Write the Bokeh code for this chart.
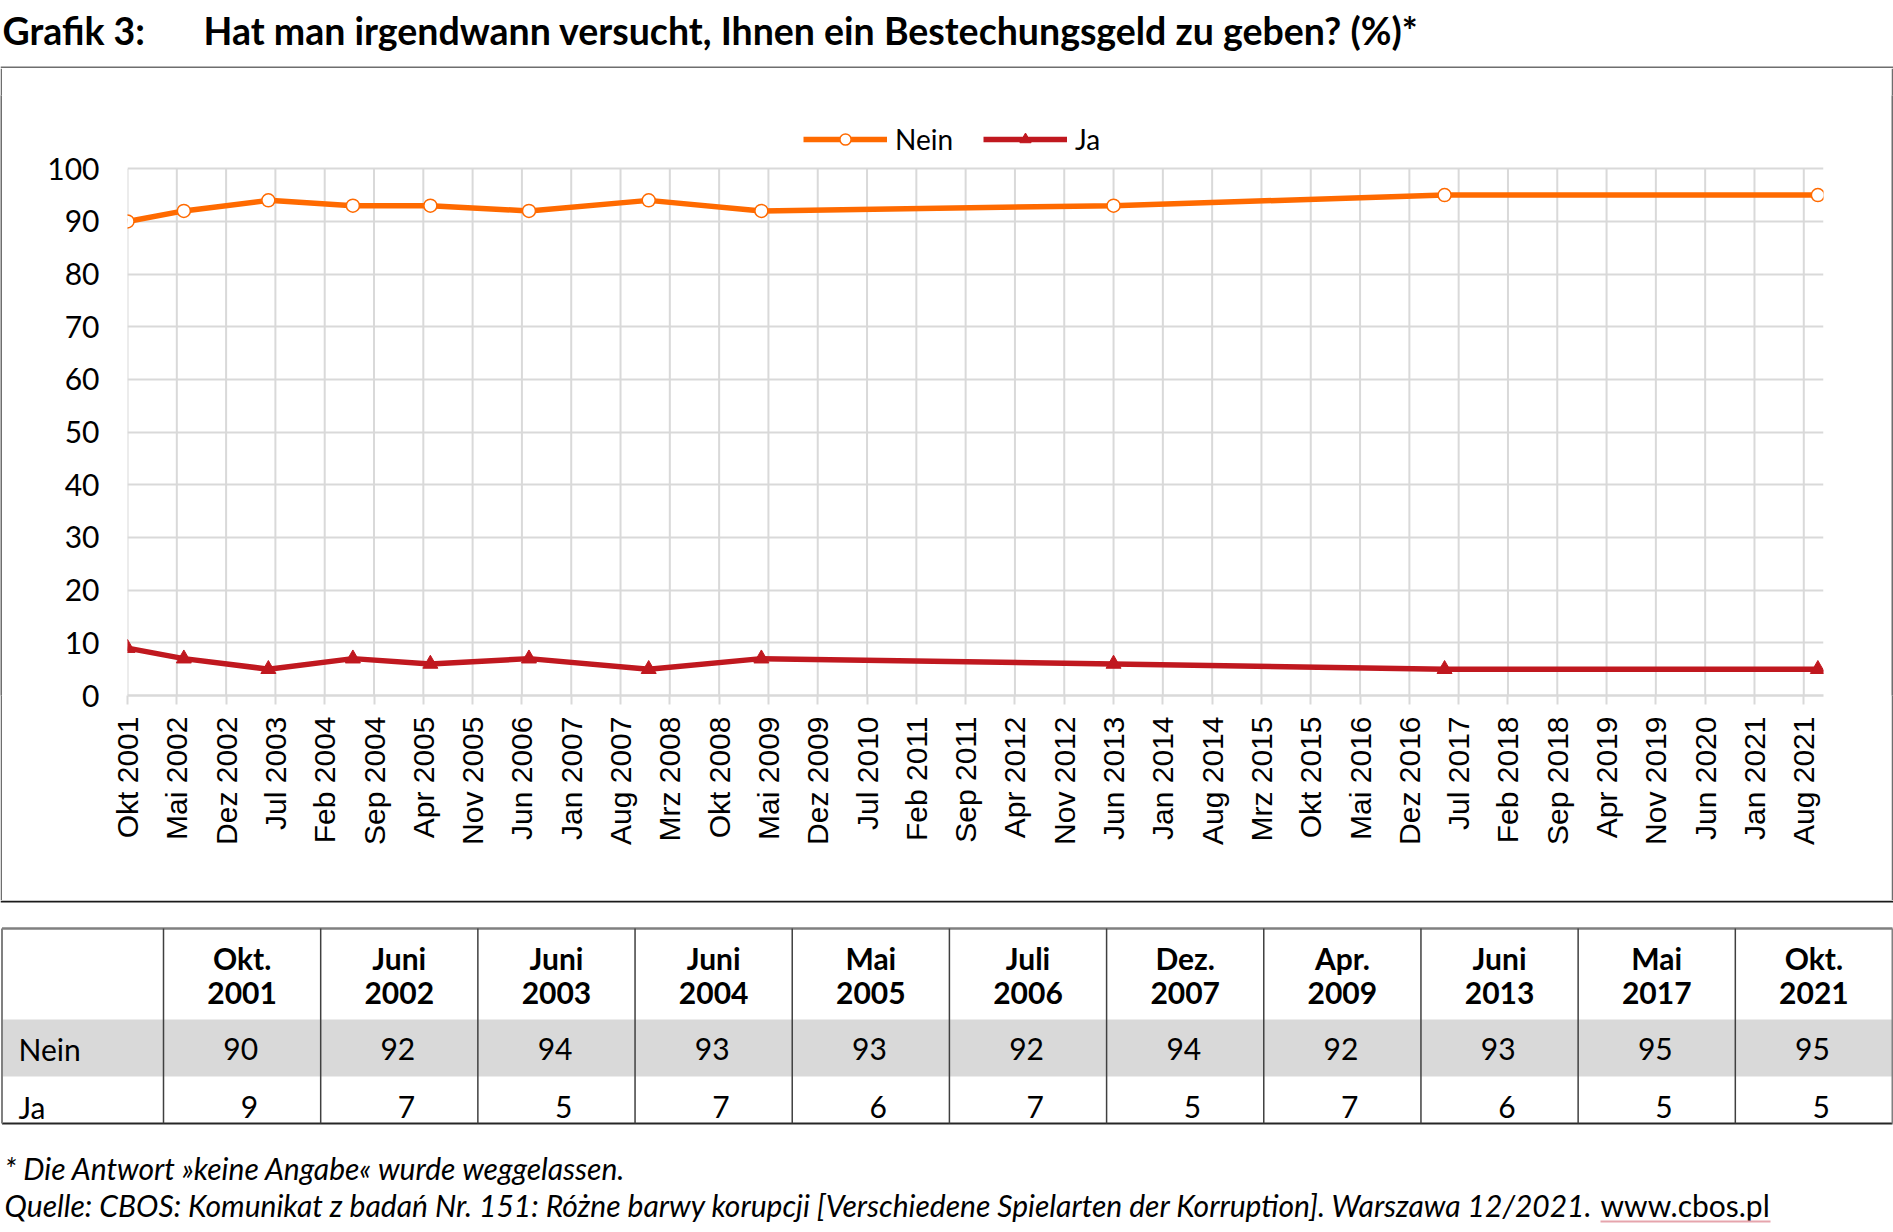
import math
from bokeh.plotting import figure
from bokeh.models import Range1d, FixedTicker, Legend, LegendItem, ColumnDataSource
from bokeh.layouts import column, row
from bokeh.embed import file_html
from bokeh.resources import INLINE
from bokeh.core.properties import value

# ---------------- data ----------------
title_label = "Grafik 3:"
title_text = "Hat man irgendwann versucht, Ihnen ein Bestechungsgeld zu geben? (%)*"
series_names = ["Nein", "Ja"]
survey_dates = ["2001-10", "2002-06", "2003-06", "2004-06", "2005-05", "2006-07",
                "2007-12", "2009-04", "2013-06", "2017-05", "2021-10"]
nein_values = [90, 92, 94, 93, 93, 92, 94, 92, 93, 95, 95]
ja_values = [9, 7, 5, 7, 6, 7, 5, 7, 6, 5, 5]
table_months = ["Okt.", "Juni", "Juni", "Juni", "Mai", "Juli", "Dez.", "Apr.", "Juni", "Mai", "Okt."]
table_years = ["2001", "2002", "2003", "2004", "2005", "2006", "2007", "2009", "2013", "2017", "2021"]
x_tick_labels = ["Okt 2001", "Mai 2002", "Dez 2002", "Jul 2003", "Feb 2004", "Sep 2004", "Apr 2005",
                 "Nov 2005", "Jun 2006", "Jan 2007", "Aug 2007", "Mrz 2008", "Okt 2008", "Mai 2009",
                 "Dez 2009", "Jul 2010", "Feb 2011", "Sep 2011", "Apr 2012", "Nov 2012", "Jun 2013",
                 "Jan 2014", "Aug 2014", "Mrz 2015", "Okt 2015", "Mai 2016", "Dez 2016", "Jul 2017",
                 "Feb 2018", "Sep 2018", "Apr 2019", "Nov 2019", "Jun 2020", "Jan 2021", "Aug 2021"]
y_ticks = [0, 10, 20, 30, 40, 50, 60, 70, 80, 90, 100]
footnote_text = "* Die Antwort »keine Angabe« wurde weggelassen."
source_text = "Quelle: CBOS: Komunikat z badań Nr. 151: Różne barwy korupcji [Verschiedene Spielarten der Korruption]. Warszawa 12/2021."
source_link = "www.cbos.pl"

MONTHS = {"Jan": 1, "Feb": 2, "Mrz": 3, "Apr": 4, "Mai": 5, "Jun": 6, "Jul": 7,
          "Aug": 8, "Sep": 9, "Okt": 10, "Nov": 11, "Dez": 12}


def month_index(year, month):
    return (year - 2001) * 12 + month - 10


def parse_date(s):
    y, m = s.split("-")
    return month_index(int(y), int(m))


def parse_tick(lbl):
    name, y = lbl.split()
    return month_index(int(y), MONTHS[name])


x_vals = [parse_date(d) for d in survey_dates]
tick_pos = [parse_tick(t) for t in x_tick_labels]

# ---------------- styles ----------------
ORANGE = "#FF6A00"
RED = "#C0181F"
GRID = "#D9D9D9"
FRAME = "#6E6E6E"
TXT = "#000000"
LATO = value("Lato")
W = 1893


def canvas(width, height, x0, x1, y_bottom, y_top):
    f = figure(width=width, height=height, x_range=Range1d(x0, x1), y_range=Range1d(y_bottom, y_top),
               x_axis_type=None, y_axis_type=None, toolbar_location=None, output_backend="svg",
               min_border=0)
    f.outline_line_color = None
    f.grid.visible = False
    f.background_fill_color = "white"
    f.border_fill_color = "white"
    return f


# ---------------- title (page y 0..68) ----------------
pt = canvas(W, 68, 0, W, 68, 0)
pt.text(x=[2], y=[30], text=[title_label], text_font=LATO, text_font_style="bold",
        text_font_size="37.5px", text_baseline="middle", text_align="left", text_color=TXT)
pt.text(x=[203], y=[30], text=[title_text], text_font=LATO, text_font_style="bold",
        text_font_size="37.5px", text_baseline="middle", text_align="left", text_color=TXT)
pt.segment(x0=[0], y0=[67], x1=[W], y1=[67], line_color=FRAME, line_width=2)

# ---------------- chart (page y 68..900) ----------------
FRAME_TOP, Y100, Y0 = 95.0, 168.3, 695.3
Y_TOP = 100 * (Y0 - FRAME_TOP) / (Y0 - Y100)
p = figure(width=1889, height=832, x_range=Range1d(0, 240.8), y_range=Range1d(0, Y_TOP),
           toolbar_location=None, output_backend="svg",
           min_border_left=125, min_border_right=68, min_border_top=int(FRAME_TOP - 68),
           min_border_bottom=205)
p.outline_line_color = None
p.background_fill_color = "white"
p.border_fill_color = "white"

# vertical grid lines only between 0 and 100
p.segment(x0=tick_pos, y0=[y_ticks[0]] * len(tick_pos), x1=tick_pos, y1=[y_ticks[-1]] * len(tick_pos),
          line_color=GRID, line_width=2)

src = ColumnDataSource(dict(x=x_vals, nein=nein_values, ja=ja_values))
l1 = p.line("x", "nein", source=src, line_color=ORANGE, line_width=5.5)
s1 = p.scatter("x", "nein", source=src, marker="circle", size=13, fill_color="white",
               line_color=ORANGE, line_width=1.5)
l2 = p.line("x", "ja", source=src, line_color=RED, line_width=5.5)
s2 = p.scatter("x", "ja", source=src, marker="triangle", size=15, fill_color=RED, line_color=RED)

p.xaxis.ticker = FixedTicker(ticks=tick_pos)
p.xaxis.major_label_overrides = {t: lbl for t, lbl in zip(tick_pos, x_tick_labels)}
p.xaxis.major_label_orientation = math.pi / 2
p.xaxis.major_label_text_font = "Liberation Sans"
p.xaxis.major_label_text_font_size = "30px"
p.xaxis.major_label_text_color = TXT
p.xaxis.axis_line_color = GRID
p.xaxis.axis_line_width = 2.5
p.xaxis.major_tick_line_color = GRID
p.xaxis.major_tick_line_width = 2
p.xaxis.major_tick_out = 9
p.xaxis.major_tick_in = 0
p.xaxis.minor_tick_line_color = None
p.xaxis.minor_tick_out = 0
p.xaxis.major_label_standoff = 12

p.yaxis.ticker = FixedTicker(ticks=y_ticks)
p.yaxis.axis_line_color = None
p.yaxis.major_tick_line_color = None
p.yaxis.minor_tick_line_color = None
p.yaxis.major_tick_out = 0
p.yaxis.major_tick_in = 0
p.yaxis.minor_tick_out = 0
p.yaxis.major_label_text_font = "Lato"
p.yaxis.major_label_text_font_size = "30px"
p.yaxis.major_label_text_color = TXT
p.yaxis.major_label_standoff = 28

p.xgrid.visible = False
p.ygrid.ticker = FixedTicker(ticks=y_ticks)
p.ygrid.grid_line_color = GRID
p.ygrid.grid_line_width = 2

legend = Legend(items=[LegendItem(label=series_names[0], renderers=[l1, s1]),
                       LegendItem(label=series_names[1], renderers=[l2, s2])],
                orientation="horizontal", location=(676, 539), glyph_width=84, glyph_height=28,
                label_standoff=8, spacing=30, padding=0, margin=0, border_line_color=None,
                background_fill_alpha=0, label_text_font="Lato", label_text_font_size="28px",
                label_text_color=TXT)
p.add_layout(legend, "center")


def strip():
    s = figure(width=2, height=832, toolbar_location=None, output_backend="svg",
               x_axis_type=None, y_axis_type=None, min_border=0)
    s.outline_line_color = None
    s.grid.visible = False
    s.background_fill_color = FRAME
    s.border_fill_color = FRAME
    return s


chart_row = row(strip(), p, strip(), spacing=0)

# ---------------- table + notes (page y 900..1232) ----------------
pb = canvas(W, 332, 0, W, 1232, 900)
pb.segment(x0=[0], y0=[901], x1=[W], y1=[901], line_color="#1A1A1A", line_width=2)

T_LEFT, T_RIGHT = 1.5, 1892
T_TOP, T_HEAD, T_ROW1, T_BOTTOM = 928, 1019, 1076, 1123
FIRST_COL = 163
ncols = len(table_years)
cw = (T_RIGHT - FIRST_COL) / ncols
centers = [FIRST_COL + (k + 0.5) * cw for k in range(ncols)]

pb.quad(left=[T_LEFT], right=[T_RIGHT], top=[T_HEAD], bottom=[T_ROW1], fill_color="#D9D9D9",
        line_color=None)
pb.segment(x0=[T_LEFT], y0=[T_TOP], x1=[T_RIGHT], y1=[T_TOP], line_color="#808080", line_width=2.5)
pb.segment(x0=[T_LEFT], y0=[T_BOTTOM], x1=[T_RIGHT], y1=[T_BOTTOM], line_color="#262626", line_width=2)
pb.segment(x0=[T_LEFT, T_RIGHT], y0=[T_TOP, T_TOP], x1=[T_LEFT, T_RIGHT], y1=[T_BOTTOM, T_BOTTOM],
           line_color="#808080", line_width=2)
div_x = [FIRST_COL + k * cw for k in range(ncols)]
pb.segment(x0=div_x, y0=[T_TOP] * ncols, x1=div_x, y1=[T_BOTTOM] * ncols,
           line_color="#404040", line_width=1.5)

pb.text(x=centers, y=[957] * ncols, text=table_months, text_font=LATO, text_font_style="bold",
        text_font_size="30px", text_align="center", text_baseline="middle", text_color=TXT)
pb.text(x=centers, y=[992] * ncols, text=table_years, text_font=LATO, text_font_style="bold",
        text_font_size="30px", text_align="center", text_baseline="middle", text_color=TXT)
pb.text(x=[c + 16 for c in centers], y=[1048] * ncols, text=[str(v) for v in nein_values],
        text_font=LATO, text_font_size="30px", text_align="right", text_baseline="middle", text_color=TXT)
pb.text(x=[c + 16 for c in centers], y=[1106] * ncols, text=[str(v) for v in ja_values],
        text_font=LATO, text_font_size="30px", text_align="right", text_baseline="middle", text_color=TXT)
pb.text(x=[18, 18], y=[1048, 1106], text=series_names, text_font=LATO, text_font_size="30px",
        text_align="left", text_baseline="middle", text_color=TXT)

pb.text(x=[4], y=[1167], text=[footnote_text], text_font=LATO, text_font_style="italic",
        text_font_size="30px", text_align="left", text_baseline="middle", text_color=TXT)
pb.text(x=[4], y=[1204], text=[source_text], text_font=LATO, text_font_style="italic",
        text_font_size="30px", text_align="left", text_baseline="middle", text_color=TXT)
pb.text(x=[1600], y=[1204], text=[source_link], text_font=LATO,
        text_font_size="30px", text_align="left", text_baseline="middle", text_color=TXT)
pb.segment(x0=[1600], y0=[1221], x1=[1770], y1=[1221], line_color="#E6A5AD", line_width=2)

layout = column(pt, chart_row, pb, spacing=0)
open("out.html", "w").write(file_html(layout, INLINE))
